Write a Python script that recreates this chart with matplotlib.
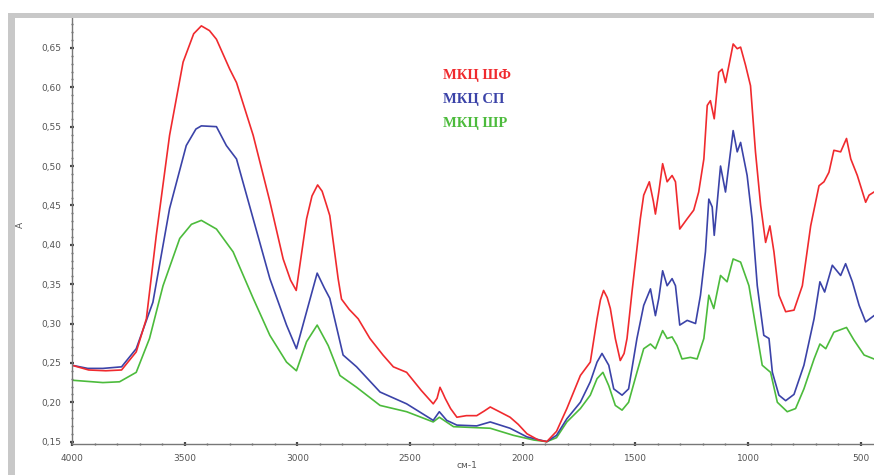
import numpy as np
import matplotlib.pyplot as plt
from matplotlib.ticker import MultipleLocator, FuncFormatter
from matplotlib.patches import Rectangle

# IR spectra (wavenumber, cm-1 -> absorbance)
wn_shf = [4000, 3926, 3850, 3780, 3715, 3670, 3626, 3567, 3507, 3460, 3426, 3390,
          3359, 3300, 3270, 3196, 3122, 3063, 3030, 3005, 2959, 2935, 2910, 2890,
          2870, 2856, 2819, 2804, 2770, 2730, 2678, 2620, 2574, 2515, 2450, 2397,
          2380, 2367, 2355, 2344, 2320, 2292, 2250, 2204, 2170, 2144, 2110, 2056,
          2020, 1981, 1930, 1893, 1850, 1804, 1744, 1700, 1670, 1655, 1641, 1625,
          1611, 1589, 1567, 1550, 1537, 1515, 1478, 1463, 1438, 1420, 1411, 1396,
          1379, 1359, 1337, 1322, 1303, 1270, 1241, 1219, 1196, 1181, 1167, 1150,
          1130, 1115, 1100, 1066, 1048, 1033, 1011, 989, 967, 944, 922, 903, 885,
          863, 833, 796, 759, 722, 685, 663, 641, 619, 589, 563, 544, 515, 478,
          463, 441]
a_shf = [0.247, 0.241, 0.240, 0.241, 0.264, 0.306, 0.412, 0.539, 0.632, 0.668, 0.678, 0.672,
         0.661, 0.623, 0.606, 0.539, 0.455, 0.382, 0.355, 0.342, 0.433, 0.462, 0.476, 0.468,
         0.450, 0.437, 0.357, 0.331, 0.318, 0.306, 0.281, 0.260, 0.245, 0.238, 0.215, 0.198,
         0.205, 0.219, 0.212, 0.205, 0.192, 0.181, 0.183, 0.183, 0.189, 0.194, 0.189, 0.181,
         0.172, 0.160, 0.152, 0.150, 0.163, 0.192, 0.234, 0.251, 0.306, 0.330, 0.342, 0.333,
         0.319, 0.281, 0.253, 0.262, 0.281, 0.340, 0.433, 0.463, 0.480, 0.455, 0.439, 0.467,
         0.503, 0.480, 0.488, 0.480, 0.420, 0.433, 0.444, 0.467, 0.509, 0.577, 0.583, 0.560,
         0.619, 0.623, 0.606, 0.655, 0.649, 0.651, 0.628, 0.602, 0.518, 0.450, 0.403, 0.424, 0.391,
         0.336, 0.315, 0.317, 0.348, 0.424, 0.475, 0.480, 0.492, 0.520, 0.518, 0.535, 0.509, 0.488, 0.454,
         0.463, 0.467]

wn_sp = [4000, 3930, 3863, 3780, 3715, 3641, 3567, 3493, 3450, 3426, 3359, 3315,
         3270, 3196, 3122, 3048, 3004, 2959, 2912, 2880, 2856, 2797, 2737, 2633,
         2515, 2397, 2370, 2337, 2292, 2204, 2144, 2056, 1981, 1893, 1850, 1804,
         1744, 1700, 1670, 1648, 1618, 1596, 1559, 1530, 1493, 1463, 1433, 1411,
         1396, 1379, 1359, 1337, 1322, 1303, 1270, 1233, 1211, 1189, 1174, 1159,
         1150, 1122, 1100, 1066, 1048, 1033, 1004, 982, 959, 930, 907, 892, 863,
         833, 796, 752, 707, 681, 660, 626, 589, 567, 537, 507, 478, 441]
a_sp = [0.247, 0.243, 0.243, 0.245, 0.268, 0.327, 0.446, 0.526, 0.547, 0.551, 0.550, 0.526,
        0.509, 0.433, 0.357, 0.298, 0.268, 0.315, 0.364, 0.345, 0.332, 0.260, 0.245, 0.213,
        0.198, 0.177, 0.188, 0.177, 0.171, 0.170, 0.175, 0.167, 0.156, 0.150, 0.158, 0.179,
        0.200, 0.226, 0.251, 0.262, 0.247, 0.217, 0.209, 0.217, 0.281, 0.323, 0.344, 0.310,
        0.332, 0.367, 0.348, 0.357, 0.348, 0.298, 0.304, 0.300, 0.336, 0.391, 0.458, 0.448,
        0.412, 0.500, 0.467, 0.545, 0.518, 0.530, 0.488, 0.433, 0.348, 0.285, 0.281, 0.238, 0.209,
        0.202, 0.210, 0.247, 0.306, 0.353, 0.340, 0.374, 0.361, 0.376, 0.353, 0.323, 0.302, 0.310]

wn_shr = [4000, 3863, 3789, 3715, 3656, 3596, 3522, 3470, 3426, 3359, 3285, 3196,
          3122, 3048, 3004, 2959, 2912, 2863, 2811, 2737, 2633, 2515, 2397, 2370,
          2307, 2144, 2041, 1950, 1893, 1850, 1804, 1744, 1700, 1670, 1644, 1618,
          1589, 1559, 1530, 1493, 1463, 1433, 1411, 1379, 1359, 1337, 1315, 1293,
          1256, 1226, 1196, 1174, 1152, 1122, 1093, 1066, 1033, 996, 967, 937, 900,
          870, 826, 789, 752, 707, 681, 655, 619, 563, 530, 485, 441]
a_shr = [0.228, 0.225, 0.226, 0.238, 0.281, 0.348, 0.408, 0.426, 0.431, 0.420, 0.391, 0.332,
         0.285, 0.251, 0.240, 0.277, 0.298, 0.272, 0.234, 0.219, 0.196, 0.188, 0.175, 0.181,
         0.169, 0.167, 0.158, 0.152, 0.150, 0.155, 0.175, 0.192, 0.209, 0.230, 0.238, 0.221,
         0.196, 0.190, 0.200, 0.238, 0.268, 0.274, 0.268, 0.291, 0.281, 0.283, 0.272, 0.255,
         0.257, 0.255, 0.281, 0.336, 0.319, 0.361, 0.353, 0.382, 0.378, 0.348, 0.298, 0.247, 0.238,
         0.200, 0.188, 0.192, 0.217, 0.255, 0.274, 0.268, 0.289, 0.295, 0.279, 0.260, 0.255]

labels = ['МКЦ ШФ', 'МКЦ СП', 'МКЦ ШР']
colors = ['#f02a2e', '#3b43a8', '#4cbb3c']

fig = plt.figure(figsize=(8.74, 4.75), dpi=100)
W, H = 874, 475

# grey picture frame (top and left bands)
fig.add_artist(Rectangle((8 / W, (H - 18) / H), 1 - 8 / W, 5 / H,
                         transform=fig.transFigure, color='#c8c8c8', lw=0))
fig.add_artist(Rectangle((8 / W, 0), 7 / W, (H - 13) / H,
                         transform=fig.transFigure, color='#c8c8c8', lw=0))

ax = fig.add_axes([72 / W, (H - 444) / H, 1 - 72 / W, (444 - 18) / H])

ax.plot(wn_shr, a_shr, color=colors[2], lw=1.2)
ax.plot(wn_sp, a_sp, color=colors[1], lw=1.2)
ax.plot(wn_shf, a_shf, color=colors[0], lw=1.2)

ax.set_xlim(4000, 441)
ax.set_ylim(0.147, 0.688)

for s in ['top', 'right']:
    ax.spines[s].set_visible(False)
for s in ['left', 'bottom']:
    ax.spines[s].set_color('#777777')
    ax.spines[s].set_linewidth(1.0)

ax.xaxis.set_major_locator(MultipleLocator(500))
ax.xaxis.set_minor_locator(MultipleLocator(100))
ax.yaxis.set_major_locator(MultipleLocator(0.05))
ax.yaxis.set_minor_locator(MultipleLocator(0.01))
ax.yaxis.set_major_formatter(FuncFormatter(lambda v, p: f'{v:.2f}'.replace('.', ',')))
ax.xaxis.set_major_formatter(FuncFormatter(lambda v, p: f'{v:.0f}'))

ax.tick_params(which='major', direction='inout', length=3, width=1.6, color='#444444',
               labelsize=6.5, labelcolor='#555555', pad=6)
ax.tick_params(which='minor', direction='inout', length=2, width=1.0, color='#666666')

# axis titles placed at their pixel positions
fig.text(20 / W, (H - 225) / H, 'A', rotation=90, fontsize=6.5, color='#555555',
         ha='center', va='center')
fig.text(467 / W, (H - 466) / H, 'см-1', fontsize=6.5, color='#555555',
         ha='center', va='center')

for i, (lab, c) in enumerate(zip(labels, colors)):
    fig.text(443 / W, (H - 75 - i * 24) / H, lab, color=c, fontsize=10.5,
             fontweight='bold', family='Liberation Serif', va='center', ha='left')

fig.savefig('out.png', dpi=100)
